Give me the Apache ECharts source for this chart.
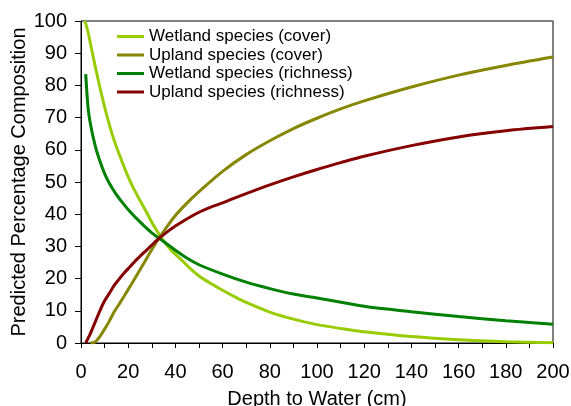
<!DOCTYPE html>
<html>
<head>
<meta charset="utf-8">
<script src="https://cdn.jsdelivr.net/npm/echarts@6/dist/echarts.min.js"></script>
<style>html,body{margin:0;padding:0;background:#fff;}#c{width:571px;height:406px;}</style>
</head>
<body>
<div id="c"></div>
<script>
// Depth to water (cm) sample points and predicted values for each series
var wetCoverX = [1.5, 2, 3, 4, 6, 8, 10, 12, 14, 16, 18, 20, 22, 25, 28, 30, 32, 34, 36, 38, 40, 43, 46, 50, 55, 60, 65, 70, 80, 90, 100, 110, 120, 140, 160, 180, 200];
var wetCoverY = [100, 99.2, 96.5, 93, 86, 79.4, 73.3, 67.8, 63, 59, 55.2, 51.6, 48.4, 44.3, 40.3, 37.5, 35, 32.7, 30.7, 29, 27.5, 25.5, 23.3, 20.8, 18.5, 16.4, 14.4, 12.6, 9.6, 7.4, 5.7, 4.5, 3.5, 2.0, 1.0, 0.4, 0.1];

var upCoverX = [4, 6, 8, 10, 12, 14, 16, 18, 20, 24, 28, 32, 36, 40, 45, 50, 60, 70, 80, 90, 100, 110, 120, 140, 160, 180, 200];
var upCoverY = [0, 0.3, 2, 4.3, 6.8, 9.6, 11.9, 14.2, 16.6, 21.5, 26.5, 31.4, 35.7, 39.6, 43.5, 47, 53.3, 58.5, 62.8, 66.6, 69.8, 72.7, 75.2, 79.5, 83.2, 86.2, 88.8];

var wetRichX = [2, 3, 4, 6, 8, 10, 12, 15, 18, 21, 25, 30, 35, 40, 45, 50, 60, 70, 80, 90, 100, 120, 140, 160, 180, 200];
var wetRichY = [83.5, 73, 68, 61.3, 56.5, 52.6, 49.6, 46.1, 43.2, 40.6, 37.6, 34.2, 31.5, 28.8, 26.3, 24.3, 21.4, 18.9, 16.9, 15.2, 14, 11.4, 9.7, 8.2, 6.9, 5.8];

var upRichX = [2, 4, 6, 8, 10, 12, 14, 16, 18, 20, 24, 28, 32, 36, 40, 45, 50, 55, 60, 65, 70, 80, 90, 100, 110, 120, 140, 160, 180, 200];
var upRichY = [0, 3, 6.5, 10, 13.1, 15.4, 17.8, 19.7, 21.5, 23.1, 26.2, 29, 31.8, 34.2, 36.3, 38.6, 40.6, 42.2, 43.5, 45, 46.4, 49.1, 51.6, 53.9, 56, 58, 61.3, 64, 65.9, 67.2];

var seriesNames = ['Wetland species (cover)', 'Upland species (cover)', 'Wetland species (richness)', 'Upland species (richness)'];
var xTitle = 'Depth to Water (cm)';
var yTitle = 'Predicted Percentage Composition';

function pairs(xs, ys) { return xs.map(function (x, i) { return [x, ys[i]]; }); }

var colors = ['#99CC00', '#868600', '#008000', '#850000'];
var allData = [pairs(wetCoverX, wetCoverY), pairs(upCoverX, upCoverY), pairs(wetRichX, wetRichY), pairs(upRichX, upRichY)];

var font = 'Liberation Sans, Arial, sans-serif';
var chart = echarts.init(document.getElementById('c'), null, {renderer: 'canvas'});
chart.setOption({
  animation: false,
  backgroundColor: '#fff',
  color: colors,
  grid: {left: 81, right: 18, top: 21, bottom: 63, containLabel: false, outerBoundsMode: 'none',
         show: true, borderColor: '#000', borderWidth: 1, backgroundColor: 'transparent'},
  legend: {
    orient: 'vertical', left: 117, top: 28, padding: 0, itemGap: 1.5,
    itemWidth: 27, itemHeight: 3, icon: 'rect',
    textStyle: {fontFamily: font, fontSize: 17, color: '#000'},
    data: seriesNames
  },
  xAxis: [{
    type: 'value', min: 0, max: 200, interval: 20,
    name: xTitle, nameLocation: 'middle', nameGap: 46, nameMoveOverlap: false,
    nameTextStyle: {fontFamily: font, fontSize: 20, color: '#000'},
    axisLine: {show: true, onZero: false, lineStyle: {color: '#000', width: 1}},
    axisTick: {show: true, inside: false, length: 5, lineStyle: {color: '#000'}},
    minorTick: {show: true, splitNumber: 2, length: 5, lineStyle: {color: '#000'}},
    axisLabel: {fontFamily: font, fontSize: 20, color: '#000', margin: 19},
    splitLine: {show: false}
  }],
  yAxis: [{
    type: 'value', min: 0, max: 100, interval: 10,
    name: yTitle, nameLocation: 'middle', nameGap: 52, nameMoveOverlap: false,
    nameTextStyle: {fontFamily: font, fontSize: 20, color: '#000'},
    axisLine: {show: true, onZero: false, lineStyle: {color: '#000', width: 1}},
    axisTick: {show: true, inside: false, length: 6, lineStyle: {color: '#000'}},
    axisLabel: {fontFamily: font, fontSize: 20, color: '#000', margin: 14},
    splitLine: {show: false}
  }, {
    type: 'value', min: 0, max: 100, interval: 10, position: 'right',
    axisLine: {show: true, onZero: false, lineStyle: {color: '#808080', width: 1.5}},
    axisTick: {show: false}, axisLabel: {show: false}, splitLine: {show: false}
  }],
  series: seriesNames.map(function (n, i) {
    return {
      name: n, type: 'line', xAxisIndex: 0, yAxisIndex: 0,
      data: allData[i], showSymbol: false, symbol: 'none',
      smooth: 0.3,
      lineStyle: {width: 3, color: colors[i]},
      itemStyle: {color: colors[i]}
    };
  })
});
</script>
</body>
</html>
